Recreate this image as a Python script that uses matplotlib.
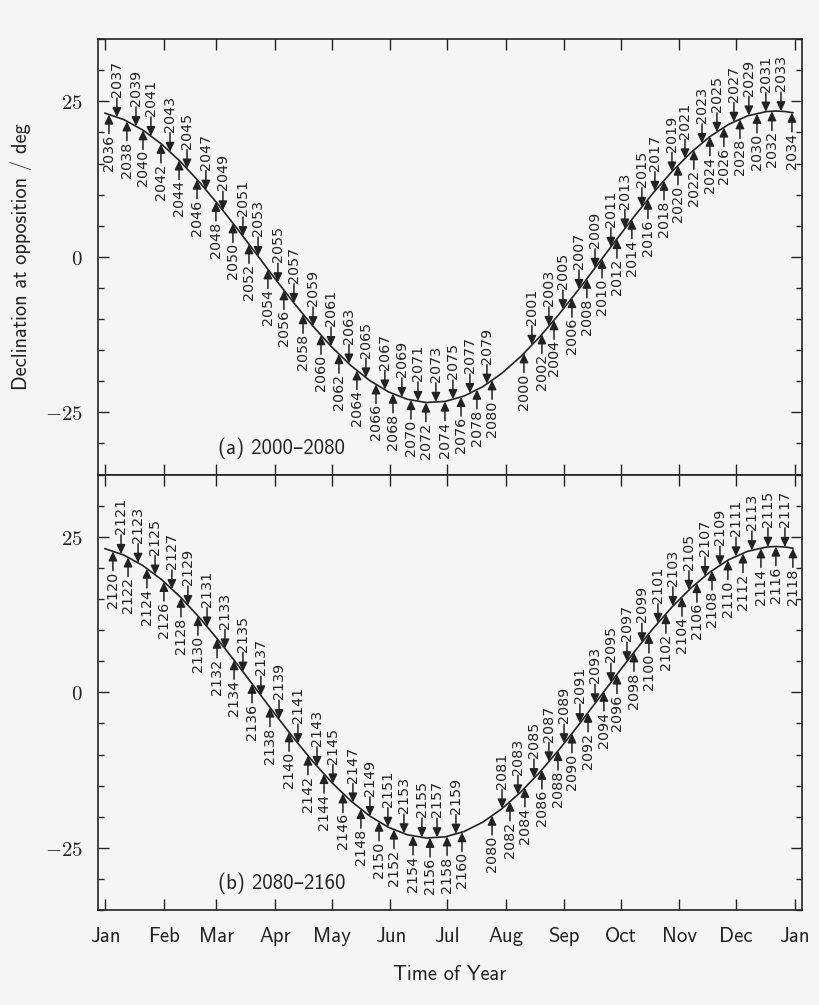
import numpy as np
import matplotlib.pyplot as plt
from matplotlib.ticker import FixedLocator, MultipleLocator, FuncFormatter

plt.rcParams['mathtext.fontset'] = 'cm'

# declination of the anti-solar point, day of year from 1 Jan
curve_day = [0, 10, 20, 30, 40, 50, 60, 70, 80, 90, 100, 110, 120, 130, 140, 150,
             160, 170, 180, 190, 200, 210, 220, 230, 240, 250, 260, 270, 280, 290,
             300, 310, 320, 330, 340, 350, 355, 360, 364]
curve_dec = [23.09, 22.06, 20.38, 18.10, 15.28, 12.00, 8.38, 4.51, 0.50, -3.52,
             -7.43, -11.13, -14.50, -17.44, -19.87, -21.70, -22.90, -23.42, -23.24,
             -22.38, -20.86, -18.72, -16.03, -12.87, -9.32, -5.50, -1.51, 2.52, 6.47,
             10.24, 13.70, 16.75, 19.31, 21.30, 22.66, 23.35, 23.44, 23.35, 23.16]

# opposition dates (day of year) for each year
years_a = list(range(2000, 2035)) + list(range(2036, 2081))
days_a = [221.7, 225.9, 231.2, 234.9, 237.6, 242.3, 247.1, 250.8, 255.0, 259.3,
          263.0, 267.7, 270.9, 275.1, 278.8, 284.1, 287.3, 291.0, 295.8, 300.0,
          303.2, 306.9, 311.6, 315.9, 320.1, 323.8, 327.5, 332.8, 336.0, 340.7,
          345.0, 349.7, 352.9, 357.7, 363.5,
          2.1, 6.3, 11.6, 16.4,
          20.1, 24.3, 29.6, 34.4, 39.2, 43.4, 48.7, 53.4, 58.7, 62.4,
          67.7, 73.0, 76.2, 81.0, 86.2, 91.5, 94.7, 100.0, 104.8, 110.1,
          114.3, 119.6, 123.8, 129.1, 133.3, 138.1, 143.4, 148.1, 152.4, 157.1,
          161.9, 165.6, 169.8, 175.1, 179.9, 184.1, 188.4, 193.1, 196.8, 202.1,
          204.8]

years_b = list(range(2080, 2119)) + list(range(2120, 2161))
days_b = [204.8, 210.1, 214.3, 218.5, 222.2, 227.0, 231.2, 234.9, 239.7, 242.9,
          247.1, 251.3, 255.6, 259.3, 264.0, 267.7, 270.9, 276.2, 279.9, 284.1,
          287.8, 292.6, 296.8, 300.5, 305.3, 309.0, 313.2, 317.5, 321.2, 325.4,
          329.6, 333.9, 337.6, 342.3, 347.1, 350.8, 355.0, 359.8, 364.0,
          4.2, 8.5, 12.2, 17.5, 22.2, 26.5, 31.2, 35.4, 40.2, 43.9,
          49.2, 54.0, 59.3, 63.5, 68.3, 73.0, 77.8, 82.5, 87.3, 92.1,
          97.4, 102.1, 107.4, 112.2, 115.9, 120.6, 125.9, 131.2, 135.4, 140.2,
          145.0, 149.7, 152.9, 158.2, 163.0, 167.7, 172.0, 175.7, 181.0, 185.7,
          188.9]

month_days = [0, 31, 59, 90, 120, 151, 181, 212, 243, 273, 304, 334, 365]
month_names = ['Jan', 'Feb', 'Mar', 'Apr', 'May', 'Jun', 'Jul', 'Aug', 'Sep',
               'Oct', 'Nov', 'Dec', 'Jan']
panel_labels = ['(a) 2000\u20132080', '(b) 2080\u20132160']

bg = '#f5f5f5'
ink = '#222222'
sans = ['cmss10', 'DejaVu Sans']
gap = 1.8      # points between curve and arrow tip
alen = 12.0    # arrow length, points

fig = plt.figure(figsize=(8.2, 10.05), dpi=100, facecolor=bg)
ax1 = fig.add_axes([0.1195, 0.5278, 0.8585, 0.4333])
ax2 = fig.add_axes([0.1195, 0.0945, 0.8585, 0.4333], sharex=ax1)

arrow = dict(arrowstyle='-|>,head_length=0.55,head_width=0.26', color=ink,
             lw=1.1, shrinkA=0, shrinkB=0, mutation_scale=10)

for ax, years, days, lab in [(ax1, years_a, days_a, panel_labels[0]),
                             (ax2, years_b, days_b, panel_labels[1])]:
    ax.set_facecolor(bg)
    ax.plot(curve_day, curve_dec, color=ink, lw=1.2)
    decs = np.interp(days, curve_day, curve_dec)
    for yr, d, dec in zip(years, days, decs):
        s = 1 if yr % 2 else -1
        ax.annotate('', xy=(d, dec), xytext=(0, s * (gap + alen)),
                    textcoords='offset points', arrowprops=arrow,
                    annotation_clip=False)
        ax.annotate(str(yr), xy=(d, dec), xytext=(0, s * (gap + alen + 0.6)),
                    textcoords='offset points', rotation=90, ha='center',
                    va='bottom' if s > 0 else 'top', fontsize=10.3, color=ink)
    ax.text(60, -30.7, lab, family=sans, fontsize=15, color=ink, va='center')
    ax.set_ylim(-35, 35)
    ax.yaxis.set_major_locator(FixedLocator([-25, 0, 25]))
    ax.yaxis.set_minor_locator(MultipleLocator(5))
    ax.yaxis.set_major_formatter(FuncFormatter(lambda v, p: '$%d$' % v))
    ax.tick_params(which='both', direction='in', top=True, right=True,
                   color=ink, labelcolor=ink, labelsize=15)
    ax.tick_params(which='major', length=8, width=1.0)
    ax.tick_params(which='minor', length=4, width=1.0)
    ax.tick_params(axis='y', pad=11)
    for sp in ax.spines.values():
        sp.set_color(ink)
        sp.set_linewidth(1.2)

ax1.set_xlim(-3.7, 368.8)
ax2.set_xticks(month_days)
ax2.set_xticklabels(month_names, family=sans)
ax2.tick_params(axis='x', pad=12)
ax2.xaxis.set_minor_locator(FixedLocator([]))
plt.setp(ax1.get_xticklabels(), visible=False)

ax1.set_ylabel('Declination at opposition / deg', family=sans, fontsize=14.7,
               color=ink, labelpad=9)
ax2.set_xlabel('Time of Year', family=sans, fontsize=14.7, color=ink, labelpad=14)

fig.savefig('out.png', dpi=100, facecolor=bg)
